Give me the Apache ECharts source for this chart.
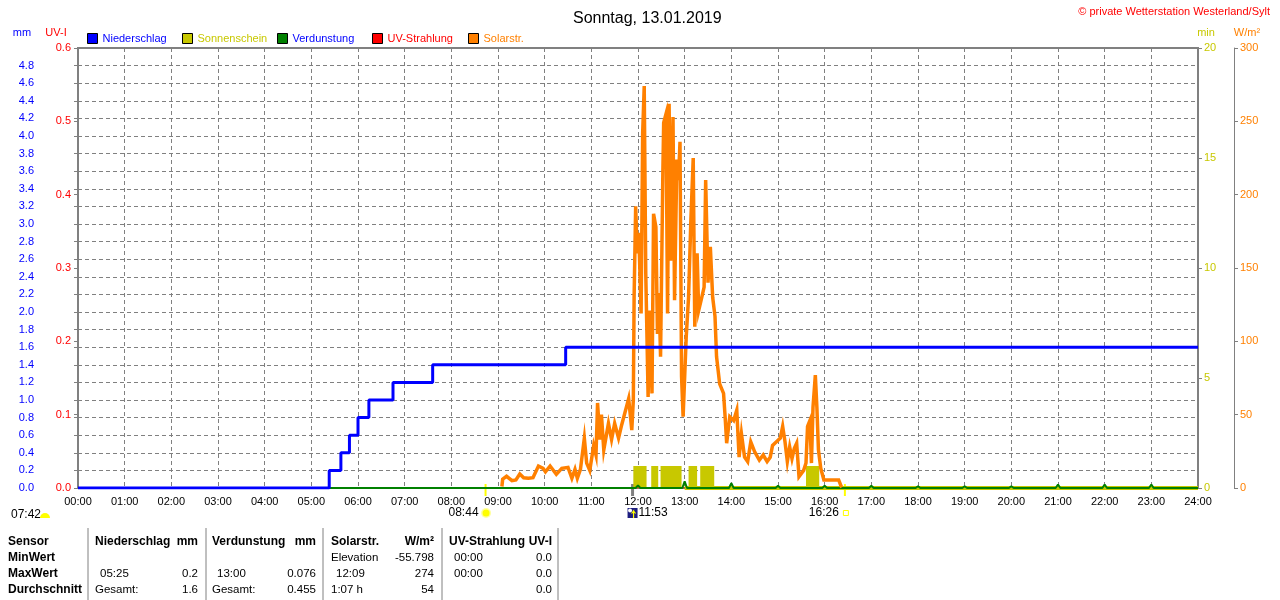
<!DOCTYPE html>
<html>
<head>
<meta charset="utf-8">
<title>Sonntag, 13.01.2019</title>
<script src="https://cdn.jsdelivr.net/npm/echarts@6/dist/echarts.min.js"></script>
<style>
  html, body { margin: 0; padding: 0; background: #fff; }
  #chart { width: 1280px; height: 600px; }
</style>
</head>
<body>
<div id="chart"></div>
<script>
// Niederschlag, kumuliert (mm) - Minuten seit 00:00
const precipTimes = [0, 323, 338, 349, 360, 374, 405, 456, 627, 1440]
const precipVals = [0, 0.2, 0.4, 0.6, 0.8, 1.0, 1.2, 1.4, 1.6, 1.6]

// Verdunstung je Stunde (mm)
const evapHours = [12, 13, 14, 15, 16, 17, 18, 19, 20, 21, 22, 23]
const evapVals = [0.03, 0.076, 0.055, 0.025, 0.025, 0.025, 0.02, 0.02, 0.02, 0.04, 0.04, 0.04]

// Sonnenschein (min) - Intervalle in Minuten
const sunStart = [714, 737, 749, 785, 800, 936]
const sunEnd = [731, 746, 776, 796, 818, 953]
const sunVals = [1, 1, 1, 1, 1, 1]
const sunBaseTimes = [780, 1440]

// UV-Strahlung (UV-I)
const uvTimes = [0, 1440]
const uvVals = [0, 0]

// Solarstrahlung (W/m²)
const solarTimes = [545, 546, 551, 558, 563, 568, 573, 579, 585, 592,
    598, 601, 607, 615, 622, 630, 635, 639, 642, 646,
    651, 654, 658, 663, 666, 668, 671, 673, 676, 682,
    686, 690, 695, 699, 703, 708, 712, 714, 715, 717,
    719, 721, 724, 726, 728, 730, 733, 735, 738, 740,
    743, 745, 747, 749, 752, 753, 756, 758, 760, 762,
    765, 767, 770, 772, 774, 776, 778, 782, 785, 788,
    791, 793, 796, 798, 802, 805, 807, 810, 813, 816,
    819, 821, 825, 830, 832, 834, 838, 843, 847, 850,
    853, 857, 861, 865, 870, 876, 881, 886, 890, 893,
    898, 903, 906, 909, 912, 915, 918, 921, 924, 927,
    933, 936, 938, 941, 943, 945, 948, 950, 952, 955,
    959, 967, 978, 981, 982]
const solarVals = [1, 6, 8, 5, 5.5, 9.5, 7, 6.6, 7, 15,
    13.4, 11, 15, 9.3, 13.4, 14, 6.6, 12.7, 6.6, 12.7,
    34, 17, 12, 29, 22.5, 58, 33, 50, 26, 44,
    33, 44, 34, 43, 51, 61, 39.5, 60, 130, 192,
    160, 174, 119, 242, 274, 146, 62, 121, 64.5, 187,
    178, 105, 133, 89.5, 217, 249, 255, 119, 262, 155,
    253, 128, 224, 210, 236, 76, 48.6, 103, 130, 183,
    225, 110, 160, 121, 130, 137, 210, 140, 164.5, 130,
    117, 89.5, 71, 64.5, 48.6, 30.5, 48.6, 46, 53, 21,
    37, 21, 18, 31.5, 24.7, 19, 22.5, 18, 21, 29,
    31.5, 34, 42, 31.5, 18, 28, 20, 27, 30.5, 7.7,
    12, 17, 42, 46, 17, 55, 77, 55, 26, 13.4,
    5.5, 5.5, 5.5, 1.4, 0.5]

// Sonnenzeiten
const dawnTime = '07:42'
const markTimes = ['08:44', '11:53', '16:26']

// Tabelle unten
const tblRowLabels = ['MinWert', 'MaxWert', 'Durchschnitt']
const tblNieder = [['', ''], ['05:25', '0.2'], ['Gesamt:', '1.6']]
const tblVerd = [['', ''], ['13:00', '0.076'], ['Gesamt:', '0.455']]
const tblSolar = [['Elevation', '-55.798'], ['12:09', '274'], ['1:07 h', '54']]
const tblUV = [['00:00', '0.0'], ['00:00', '0.0'], ['', '0.0']]

const FONT = '"Liberation Sans", Arial, sans-serif'
const GRAY = '#808080'
const BLUE = '#0000ff'
const RED = '#ff0000'
const OLIVE = '#c8c800'
const GREEN = '#008000'
const ORANGE = '#ff8000'

const pad2 = n => (n < 10 ? '0' : '') + n
const toMin = s => { const p = s.split(':'); return +p[0] * 60 + +p[1] }
const zip = (a, b) => a.map((v, i) => [v, b[i]])

const evapData = [[0, 0]]
evapHours.forEach((h, i) => {
    evapData.push([h * 60 - 3, 0], [h * 60, evapVals[i]], [h * 60 + 3, 0])
})
evapData.push([1440, 0])

const chart = echarts.init(document.getElementById('chart'), null, { renderer: 'canvas' })

function legendItem(name, left, color) {
    return {
        left: left, top: 33, padding: 0, itemWidth: 10, itemHeight: 10,
        icon: 'rect', selectedMode: false,
        itemStyle: { borderColor: '#000', borderWidth: 1 },
        textStyle: { fontSize: 11, fontFamily: FONT },
        data: [{ name: name, textStyle: { color: color } }]
    }
}

const axisLabelBase = { fontSize: 11, fontFamily: FONT }

chart.setOption({
    animation: false,
    backgroundColor: '#fff',
    textStyle: { fontFamily: FONT },
    title: {
        text: 'Sonntag, 13.01.2019', left: 568, top: 6,
        textStyle: { fontSize: 16, fontWeight: 'normal', color: '#000', fontFamily: FONT }
    },
    legend: [
        legendItem('Niederschlag', 87, BLUE),
        legendItem('Sonnenschein', 182, OLIVE),
        legendItem('Verdunstung', 277, BLUE),
        legendItem('UV-Strahlung', 372, RED),
        legendItem('Solarstr.', 468, ORANGE)
    ],
    grid: {
        left: 78, right: 82, top: 48, bottom: 112,
        show: true, borderColor: GRAY, borderWidth: 2
    },
    xAxis: {
        type: 'value', min: 0, max: 1440, interval: 60,
        axisLine: { show: false },
        axisTick: { show: false },
        axisLabel: Object.assign({ color: '#000', margin: 8, formatter: v => pad2(v / 60) + ':00' }, axisLabelBase),
        splitLine: { show: true, lineStyle: { color: GRAY, type: [4, 3], width: 1 } }
    },
    yAxis: [
        {
            type: 'value', position: 'left', offset: 37, min: 0, max: 5, interval: 0.2,
            axisLine: { show: true, lineStyle: { color: GRAY, width: 1 } },
            axisTick: { show: true, length: 4, lineStyle: { color: GRAY } },
            axisLabel: Object.assign({ color: BLUE, margin: 7, formatter: v => v > 4.9 ? '' : v.toFixed(1) }, axisLabelBase),
            splitLine: { show: true, lineStyle: { color: GRAY, type: [4, 3], width: 1 } }
        },
        {
            type: 'value', position: 'left', offset: 0, min: 0, max: 0.6, interval: 0.1,
            axisLine: { show: true, lineStyle: { color: GRAY, width: 2 } },
            axisTick: { show: true, length: 4, lineStyle: { color: GRAY } },
            axisLabel: Object.assign({ color: RED, margin: 7, formatter: v => v.toFixed(1) }, axisLabelBase),
            splitLine: { show: false }
        },
        {
            type: 'value', position: 'right', offset: 0, min: 0, max: 20, interval: 5,
            axisLine: { show: true, lineStyle: { color: GRAY, width: 2 } },
            axisTick: { show: true, length: 4, lineStyle: { color: GRAY } },
            axisLabel: Object.assign({ color: OLIVE, margin: 6 }, axisLabelBase),
            splitLine: { show: false }
        },
        {
            type: 'value', position: 'right', offset: 36, min: 0, max: 300, interval: 50,
            axisLine: { show: true, lineStyle: { color: GRAY, width: 1 } },
            axisTick: { show: true, length: 4, lineStyle: { color: GRAY } },
            axisLabel: Object.assign({ color: ORANGE, margin: 6 }, axisLabelBase),
            splitLine: { show: false }
        }
    ],
    series: [
        {
            name: 'UV-Strahlung', type: 'line', yAxisIndex: 1, symbol: 'none',
            color: RED, lineStyle: { width: 1, color: RED },
            data: zip(uvTimes, uvVals)
        },
        {
            name: 'Sonnenschein', type: 'custom', yAxisIndex: 2,
            color: OLIVE, itemStyle: { color: OLIVE },
            encode: { x: [0, 1], y: 2 },
            renderItem: function (params, api) {
                const p0 = api.coord([api.value(0), api.value(2)])
                const p1 = api.coord([api.value(1), 0])
                return {
                    type: 'rect',
                    shape: { x: p0[0], y: p0[1], width: p1[0] - p0[0], height: p1[1] - p0[1] },
                    style: { fill: OLIVE }
                }
            },
            data: sunStart.map((s, i) => [s, sunEnd[i], sunVals[i]])
        },
        {
            name: 'Sonnenschein', type: 'line', yAxisIndex: 2, symbol: 'none',
            color: OLIVE, lineStyle: { width: 4, color: OLIVE },
            data: sunBaseTimes.map(t => [t, 0])
        },
        {
            name: 'Verdunstung', type: 'line', yAxisIndex: 0, symbol: 'none',
            color: GREEN, lineStyle: { width: 2, color: GREEN },
            data: evapData
        },
        {
            name: 'Solarstr.', type: 'line', yAxisIndex: 3, symbol: 'none',
            color: ORANGE, lineStyle: { width: 3.5, color: ORANGE, join: 'miter' },
            data: zip(solarTimes, solarVals)
        },
        {
            name: 'Niederschlag', type: 'line', yAxisIndex: 0, symbol: 'none', step: 'end',
            color: BLUE, lineStyle: { width: 3, color: BLUE },
            data: zip(precipTimes, precipVals)
        }
    ]
})

// --- Texte, Markierungen und Tabelle ---
const g = []
const txt = (text, x, y, opt) => g.push({
    type: 'text', silent: true,
    style: Object.assign({
        text: text, x: x, y: y, fill: '#000', font: '11px ' + FONT,
        align: 'left', verticalAlign: 'middle'
    }, opt || {})
})

txt('© private Wetterstation Westerland/Sylt', 1270, 12, { fill: RED, align: 'right', font: '11px ' + FONT })
txt('mm', 22, 33, { fill: BLUE, align: 'center' })
txt('UV-I', 56, 33, { fill: RED, align: 'center' })
txt('min', 1206, 33, { fill: OLIVE, align: 'center' })
txt('W/m²', 1247, 33, { fill: ORANGE, align: 'center' })

// Dämmerung links unten
txt(dawnTime, 11, 515, { font: '12px ' + FONT })
g.push({ type: 'sector', silent: true, shape: { cx: 45, cy: 518, r: 5, startAngle: Math.PI, endAngle: Math.PI * 2 }, style: { fill: '#ffff00' } })

const mx = markTimes.map(t => chart.convertToPixel({ xAxisIndex: 0 }, toMin(t)))
// Sonnenaufgang
g.push({ type: 'line', silent: true, shape: { x1: mx[0], y1: 484, x2: mx[0], y2: 496 }, style: { stroke: '#ffff00', lineWidth: 2 } })
txt(markTimes[0], mx[0] - 7, 513, { align: 'right', font: '12px ' + FONT })
g.push({ type: 'circle', silent: true, shape: { cx: mx[0] + 0.5, cy: 513, r: 5 }, style: { fill: '#ffffa0' } })
g.push({ type: 'circle', silent: true, shape: { cx: mx[0] + 0.5, cy: 513, r: 3.5 }, style: { fill: '#ffff00' } })
// Höchststand
g.push({ type: 'line', silent: true, shape: { x1: mx[1], y1: 484, x2: mx[1], y2: 496 }, style: { stroke: GRAY, lineWidth: 3 } })
g.push({ type: 'rect', silent: true, shape: { x: mx[1] - 5, y: 508, width: 10, height: 10 }, style: { fill: '#1c1c80' } })
g.push({ type: 'circle', silent: true, shape: { cx: mx[1] - 2.5, cy: 510.5, r: 2 }, style: { fill: '#ffffff' } })
g.push({ type: 'polyline', silent: true, shape: { points: [[mx[1] + 1, 518], [mx[1] + 1, 511], [mx[1] - 1, 513.5], [mx[1] + 1, 511], [mx[1] + 3, 513.5]] }, style: { stroke: '#ffff00', lineWidth: 1.2, fill: null } })
txt(markTimes[1], mx[1] + 6, 513, { font: '12px ' + FONT })
// Sonnenuntergang
g.push({ type: 'line', silent: true, shape: { x1: mx[2], y1: 484, x2: mx[2], y2: 496 }, style: { stroke: '#ffff00', lineWidth: 2 } })
txt(markTimes[2], mx[2] - 6, 513, { align: 'right', font: '12px ' + FONT })
g.push({ type: 'rect', silent: true, shape: { x: mx[2] - 1.5, y: 510.5, width: 5, height: 5 }, style: { stroke: '#ffff00', fill: null, lineWidth: 1 } })

// Tabelle
const rowY = [542, 558, 574, 590]
const bold = 'bold 12px ' + FONT
const reg = '11.5px ' + FONT
txt('Sensor', 8, rowY[0], { font: bold })
tblRowLabels.forEach((l, i) => txt(l, 8, rowY[i + 1], { font: bold }))
const cols = [
    { head: 'Niederschlag', unit: 'mm', l: 95, r: 198, cells: tblNieder },
    { head: 'Verdunstung', unit: 'mm', l: 212, r: 316, cells: tblVerd },
    { head: 'Solarstr.', unit: 'W/m²', l: 331, r: 434, cells: tblSolar },
    { head: 'UV-Strahlung', unit: 'UV-I', l: 449, r: 552, cells: tblUV }
]
cols.forEach(c => {
    txt(c.head, c.l, rowY[0], { font: bold })
    txt(c.unit, c.r, rowY[0], { font: bold, align: 'right' })
    c.cells.forEach((cell, i) => {
        const indent = /^\d\d:\d\d$/.test(cell[0]) ? 5 : 0
        if (cell[0]) txt(cell[0], c.l + indent, rowY[i + 1], { font: reg })
        if (cell[1]) txt(cell[1], c.r, rowY[i + 1], { align: 'right', font: reg })
    })
});
[88, 206, 323, 442, 558].forEach(x => {
    g.push({ type: 'line', silent: true, shape: { x1: x, y1: 528, x2: x, y2: 600 }, style: { stroke: GRAY, lineWidth: 1 } })
})

chart.setOption({ graphic: g })
</script>
</body>
</html>
